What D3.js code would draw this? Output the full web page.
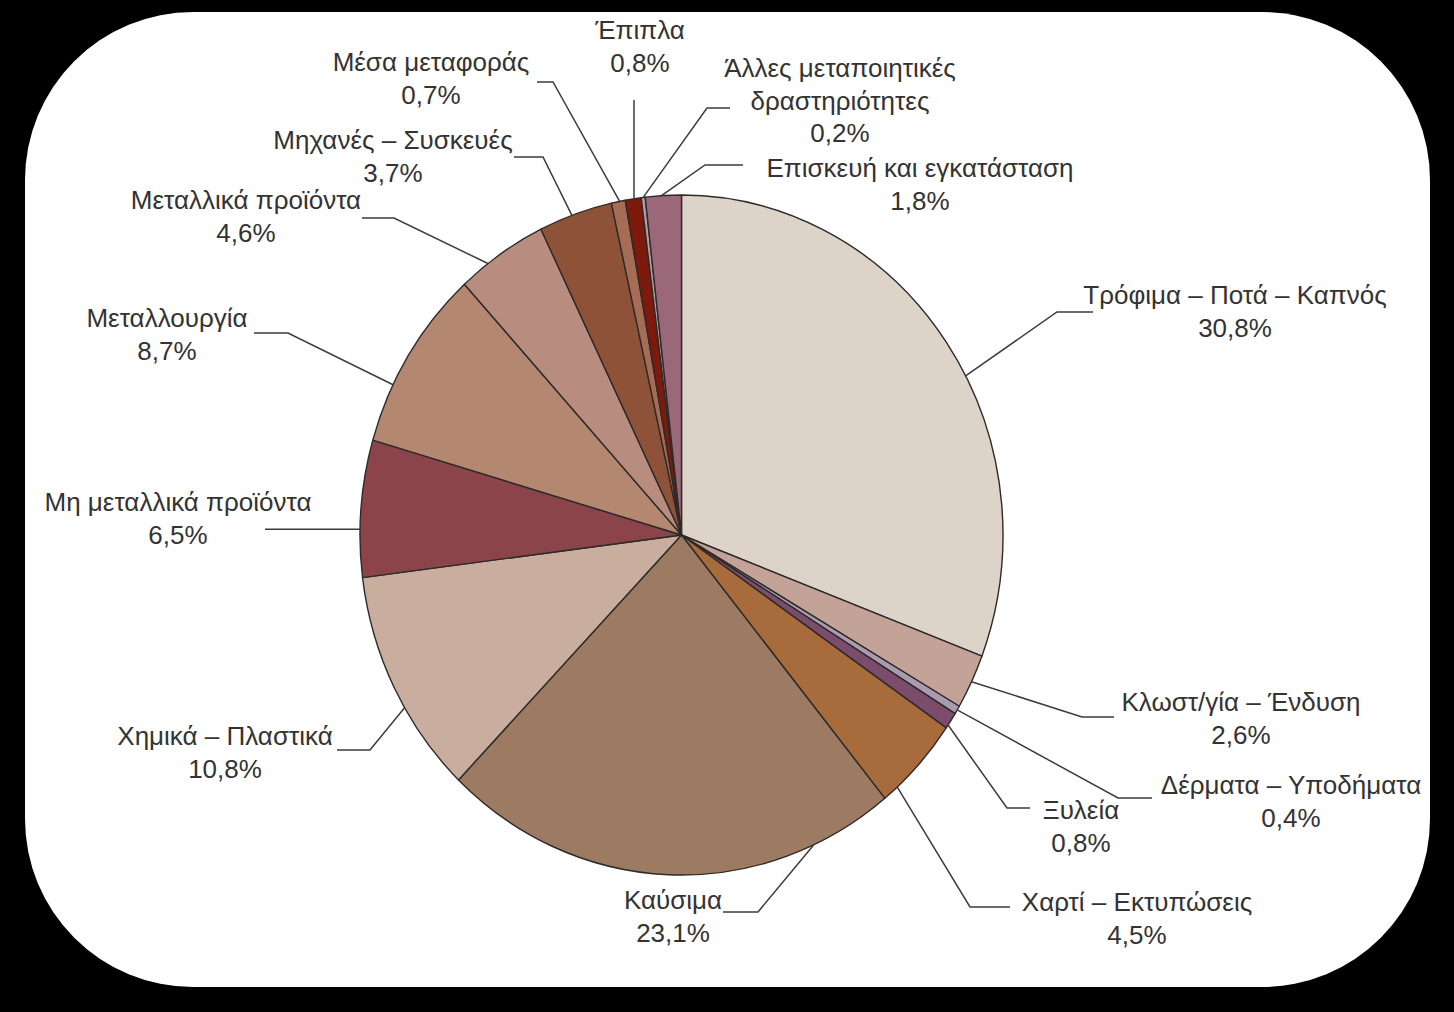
<!DOCTYPE html>
<html>
<head>
<meta charset="utf-8">
<script src="https://cdn.jsdelivr.net/npm/d3@7"></script>
<style>
  html, body { margin: 0; padding: 0; background: #000; }
  svg { display: block; }
</style>
</head>
<body>
<svg id="chart" width="1454" height="1012"></svg>
<script>
// ---- data ----
const categories = [
  "Τρόφιμα – Ποτά – Καπνός",
  "Κλωστ/γία – Ένδυση",
  "Δέρματα – Υποδήματα",
  "Ξυλεία",
  "Χαρτί – Εκτυπώσεις",
  "Καύσιμα",
  "Χημικά – Πλαστικά",
  "Μη μεταλλικά προϊόντα",
  "Μεταλλουργία",
  "Μεταλλικά προϊόντα",
  "Μηχανές – Συσκευές",
  "Μέσα μεταφοράς",
  "Έπιπλα",
  "Άλλες μεταποιητικές\nδραστηριότητες",
  "Επισκευή και εγκατάσταση"
];
const values = [30.8, 2.6, 0.4, 0.8, 4.5, 23.1, 10.8, 6.5, 8.7, 4.6, 3.7, 0.7, 0.8, 0.2, 1.8];
const colors = [
  "#ddd3c9", "#c3a398", "#a99cb1", "#7b4c6c", "#a86b3c",
  "#9c7b62", "#c9ad9e", "#8b454a", "#b48770", "#b98c80",
  "#8e5239", "#a66c56", "#7d1a0c", "#b99aa4", "#9a6878"
];

// ---- layout (label placement, hand-set) ----
// anchor: fraction along the slice where the leader starts
const labelLayout = [
  { anchor: 0.56, tx: 1235, ty: 295, elbow: [1057, 312], end: [1093, 312] },
  { anchor: 0.50, tx: 1241, ty: 702, elbow: [1082, 717], end: [1114, 717] },
  { anchor: 0.50, tx: 1291, ty: 785, elbow: [1118, 798], end: [1152, 798] },
  { anchor: 0.80, tx: 1081, ty: 810, elbow: [1007, 808], end: [1030, 808] },
  { anchor: 0.82, tx: 1137, ty: 902, elbow: [970, 907],  end: [1010, 907] },
  { anchor: 0.18, tx: 673,  ty: 900, elbow: [758, 912],  end: [723, 912] },
  { anchor: 0.40, tx: 225,  ty: 736, elbow: [370, 750],  end: [337, 750] },
  { anchor: 0.35, tx: 178,  ty: 502, elbow: null,        end: [265, null] },
  { anchor: 0.32, tx: 167,  ty: 318, elbow: [288, 333],  end: [254, 333] },
  { anchor: 0.33, tx: 246,  ty: 200, elbow: [394, 218],  end: [362, 218] },
  { anchor: 0.45, tx: 393,  ty: 140, elbow: [543, 157],  end: [514, 157] },
  { anchor: 0.60, tx: 431,  ty: 62,  elbow: [553, 82],   end: [537, 82] },
  { anchor: 0.55, tx: 640,  ty: 30,  elbow: null,        end: [null, 100] },
  { anchor: 0.50, tx: 840,  ty: 68,  elbow: [707, 108],  end: [730, 108] },
  { anchor: 0.45, tx: 920,  ty: 168, elbow: [705, 165],  end: [743, 165] }
];

const svg = d3.select("#chart");
const W = 1454, H = 1012;

// background card
svg.append("rect").attr("x", 0).attr("y", 0).attr("width", W).attr("height", H).attr("fill", "#000");
svg.append("rect")
  .attr("x", 25).attr("y", 12).attr("width", 1405).attr("height", 975)
  .attr("rx", 168).attr("ry", 168)
  .attr("fill", "#fff");

// pie geometry (slightly elliptical, as in the reference)
const cx = 681.5, cy = 535, rx = 321.5, ry = 340;
const R = 100;
const sx = d3.scaleLinear().domain([-R, R]).range([cx - rx, cx + rx]);
const sy = d3.scaleLinear().domain([-R, R]).range([cy - ry, cy + ry]);

const pie = d3.pie().sort(null).value(d => d.value).startAngle(0).endAngle(2 * Math.PI);
const data = categories.map((c, i) => ({ name: c, value: values[i], color: colors[i], layout: labelLayout[i] }));
const arcs = pie(data);
const arc = d3.arc().innerRadius(0).outerRadius(R);

const pg = svg.append("g")
  .attr("transform", `translate(${sx(0)},${sy(0)}) scale(${(sx(R) - sx(0)) / R},${(sy(R) - sy(0)) / R})`);

pg.selectAll("path")
  .data(arcs)
  .join("path")
  .attr("d", arc)
  .attr("fill", d => d.data.color)
  .attr("stroke", "#2e2a28")
  .attr("stroke-width", 1.4)
  .attr("stroke-linejoin", "round")
  .attr("vector-effect", "non-scaling-stroke");

// leader lines
function edgePoint(a) {
  return [sx(R * Math.sin(a)), sy(-R * Math.cos(a))];
}
const lg = svg.append("g");
arcs.forEach(d => {
  const L = d.data.layout;
  const a = d.startAngle + (d.endAngle - d.startAngle) * L.anchor;
  const s = edgePoint(a);
  const pts = [s];
  if (L.elbow) pts.push(L.elbow);
  const e = [L.end[0] == null ? s[0] : L.end[0], L.end[1] == null ? s[1] : L.end[1]];
  pts.push(e);
  lg.append("path")
    .attr("d", d3.line()(pts))
    .attr("fill", "none")
    .attr("stroke", "#3c3c3c")
    .attr("stroke-width", 1.5);
});

// labels
const fmt = v => d3.format(".1f")(v).replace(".", ",") + "%";
const tg = svg.append("g")
  .attr("font-family", "'Liberation Sans', Arial, Helvetica, sans-serif")
  .attr("font-size", 26)
  .attr("fill", "#333");
arcs.forEach(d => {
  const L = d.data.layout;
  const lines = d.data.name.split("\n").concat([fmt(d.data.value)]);
  const t = tg.append("text")
    .attr("text-anchor", "middle");
  lines.forEach((ln, i) => {
    t.append("tspan")
      .attr("x", L.tx)
      .attr("y", L.ty + i * 32.5)
      .attr("dominant-baseline", "central")
      .text(ln);
  });
});
</script>
</body>
</html>
